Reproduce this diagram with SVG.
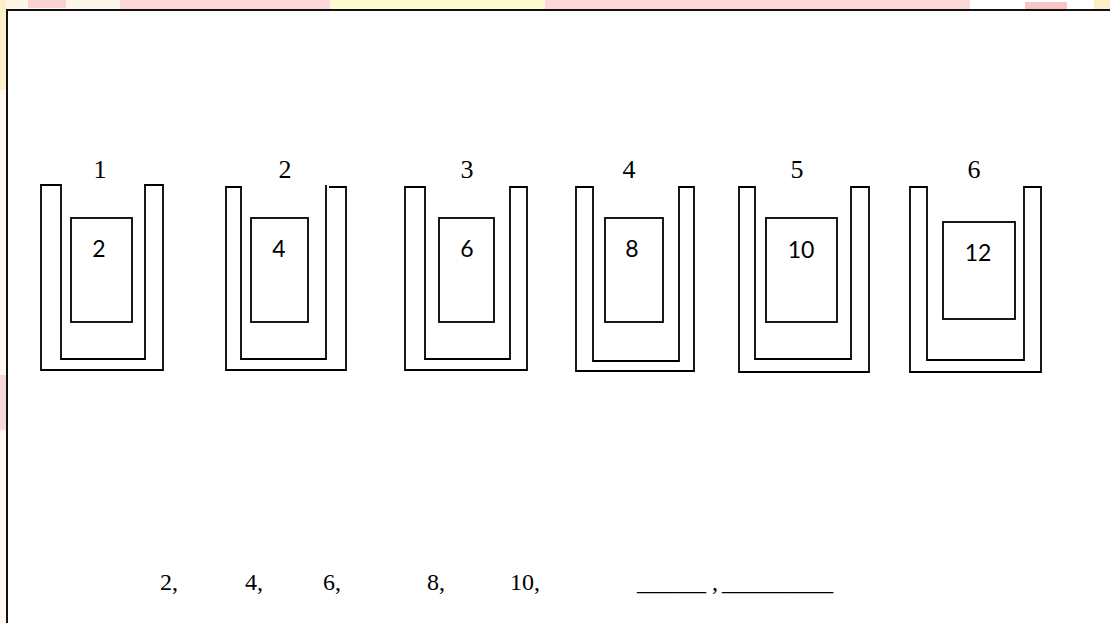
<svg xmlns="http://www.w3.org/2000/svg" width="1110" height="623" viewBox="0 0 1110 623">
<style>
.u{fill:none;stroke:#000;stroke-width:1.8;stroke-linejoin:miter}
.card{fill:#fff;stroke:#000;stroke-width:1.8}
.lbl{font-family:"Liberation Serif","Times New Roman",serif;font-size:26px;fill:#000;text-anchor:middle}
.num{font-family:Lato,"Open Sans",sans-serif;font-size:23px;fill:#000;text-anchor:middle}
.seq{font-family:"Liberation Serif","Times New Roman",serif;font-size:24px;fill:#000}
</style>
<rect width="1110" height="623" fill="#fff"/>
<g id="backdrop">
<rect x="0" y="0" width="120" height="10" fill="#fff6ea"/>
<rect x="120" y="0" width="210" height="10" fill="#fdd8d8"/>
<rect x="330" y="0" width="215" height="10" fill="#fdfbcf"/>
<rect x="545" y="0" width="425" height="10" fill="#fdd8d8"/>
<rect x="1025" y="2" width="42" height="8" fill="#f9c4c4"/>
<rect x="1094" y="0" width="16" height="10" fill="#fdeec8"/>
<rect x="28" y="0" width="38" height="8" fill="#fbd0d0"/>
<rect x="0" y="0" width="6" height="623" fill="#fff8ec"/>
<rect x="0" y="0" width="6" height="90" fill="#fdf0c8"/>
<rect x="0" y="375" width="6" height="55" fill="#fbd8d8"/>
</g>
<g id="frame">
<path d="M7,623 V10 H1110" fill="none" stroke="#111" stroke-width="2"/>
</g>
<g id="container-1">
<path class="u" d="M41,185 V370 H163 V185 H145 V359 H61 V185 Z"/>
<rect class="card" x="71" y="218" width="61" height="104"/>
<text class="lbl" x="100" y="178">1</text>
<text class="num" x="99" y="257">2</text>
</g>
<g id="container-2">
<path class="u" d="M242,187 H226 V370 H346 V187 H329"/>
<path class="u" d="M241,188 V359 H326 V185"/>
<rect class="card" x="251" y="218" width="57" height="104"/>
<text class="lbl" x="285" y="178">2</text>
<text class="num" x="279" y="257">4</text>
</g>
<g id="container-3">
<path class="u" d="M405,187 V370 H527 V187 H510 V359 H425 V187 Z"/>
<rect class="card" x="439" y="218" width="55" height="104"/>
<text class="lbl" x="467" y="178">3</text>
<text class="num" x="467" y="257">6</text>
</g>
<g id="container-4">
<path class="u" d="M576,187 V371 H694 V187 H679 V361 H593 V187 Z"/>
<rect class="card" x="605" y="218" width="58" height="104"/>
<text class="lbl" x="629" y="178">4</text>
<text class="num" x="632" y="257">8</text>
</g>
<g id="container-5">
<path class="u" d="M739,187 V372 H869 V187 H851 V359 H755 V187 Z"/>
<rect class="card" x="766" y="218" width="71" height="104"/>
<text class="lbl" x="797" y="178">5</text>
<text class="num" x="801" y="258">10</text>
</g>
<g id="container-6">
<path class="u" d="M910,187 V372 H1041 V187 H1024 V360 H927 V187 Z"/>
<rect class="card" x="943" y="222" width="72" height="97"/>
<text class="lbl" x="974" y="178">6</text>
<text class="num" x="978" y="261">12</text>
</g>
<g id="sequence">
<text class="seq" x="160" y="590">2,</text>
<text class="seq" x="245" y="590">4,</text>
<text class="seq" x="323" y="590">6,</text>
<text class="seq" x="427" y="590">8,</text>
<text class="seq" x="510" y="590">10,</text>
<text class="seq" y="590"><tspan x="637" textLength="69" lengthAdjust="spacingAndGlyphs">_____</tspan><tspan x="712">,</tspan><tspan x="722" textLength="111" lengthAdjust="spacingAndGlyphs">_______</tspan></text>
</g>
</svg>
